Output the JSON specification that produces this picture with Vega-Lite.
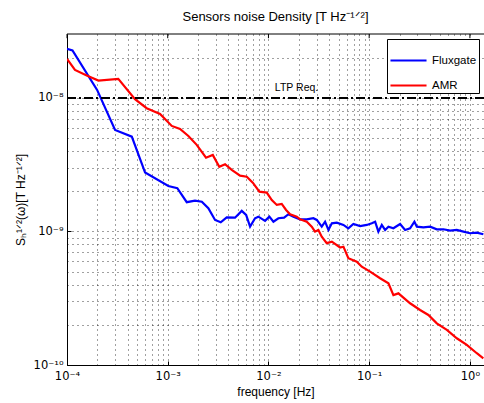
{
  "$schema": "https://vega.github.io/schema/vega-lite/v6.json",
  "width": 417,
  "height": 331,
  "autosize": {"type": "none"},
  "padding": {"left": 67, "top": 34, "right": 0, "bottom": 38},
  "background": "white",
  "config": {
    "font": "Liberation Sans",
    "view": {"stroke": null},
    "axis": {"labelFont": "DejaVu Sans", "titleFont": "Liberation Sans", "labelColor": "black", "titleColor": "black", "titleFontWeight": "normal", "labelFontSize": 11.5, "titleFontSize": 12}
  },
  "title": {"text": "Sensors noise Density [T Hz⁻¹ᐟ²]", "fontSize": 13, "fontWeight": "normal", "font": "Liberation Sans", "color": "black", "offset": 10},
  "layer": [
    {
      "data": {"values": [
        {"s":"Fluxgate","f":1.0e-4,"v":2.33e-8},{"s":"Fluxgate","f":1.134e-4,"v":2.27e-8},{"s":"Fluxgate","f":1.99e-4,"v":1.148e-8},{"s":"Fluxgate","f":3.0e-4,"v":5.76e-9},{"s":"Fluxgate","f":4.40e-4,"v":5.13e-9},{"s":"Fluxgate","f":5.96e-4,"v":2.76e-9},{"s":"Fluxgate","f":1.014e-3,"v":2.19e-9},{"s":"Fluxgate","f":1.245e-3,"v":2.11e-9},{"s":"Fluxgate","f":1.545e-3,"v":1.656e-9},{"s":"Fluxgate","f":1.866e-3,"v":1.702e-9},{"s":"Fluxgate","f":2.18e-3,"v":1.671e-9},{"s":"Fluxgate","f":2.53e-3,"v":1.493e-9},{"s":"Fluxgate","f":2.95e-3,"v":1.219e-9},{"s":"Fluxgate","f":3.36e-3,"v":1.172e-9},{"s":"Fluxgate","f":3.85e-3,"v":1.276e-9},{"s":"Fluxgate","f":4.66e-3,"v":1.268e-9},{"s":"Fluxgate","f":5.43e-3,"v":1.426e-9},{"s":"Fluxgate","f":6.0e-3,"v":1.33e-9},{"s":"Fluxgate","f":6.57e-3,"v":1.086e-9},{"s":"Fluxgate","f":7.36e-3,"v":1.256e-9},{"s":"Fluxgate","f":7.94e-3,"v":1.291e-9},{"s":"Fluxgate","f":9.25e-3,"v":1.2e-9},{"s":"Fluxgate","f":1.021e-2,"v":1.291e-9},{"s":"Fluxgate","f":1.12e-2,"v":1.183e-9},{"s":"Fluxgate","f":1.255e-2,"v":1.256e-9},{"s":"Fluxgate","f":1.43e-2,"v":1.268e-9},{"s":"Fluxgate","f":1.58e-2,"v":1.346e-9},{"s":"Fluxgate","f":1.77e-2,"v":1.291e-9},{"s":"Fluxgate","f":2.06e-2,"v":1.233e-9},{"s":"Fluxgate","f":2.4e-2,"v":1.233e-9},{"s":"Fluxgate","f":2.79e-2,"v":1.256e-9},{"s":"Fluxgate","f":3.02e-2,"v":1.219e-9},{"s":"Fluxgate","f":3.38e-2,"v":1.086e-9},{"s":"Fluxgate","f":3.65e-2,"v":1.183e-9},{"s":"Fluxgate","f":3.94e-2,"v":1.026e-9},{"s":"Fluxgate","f":4.26e-2,"v":1.151e-9},{"s":"Fluxgate","f":4.77e-2,"v":1.164e-9},{"s":"Fluxgate","f":5.55e-2,"v":1.119e-9},{"s":"Fluxgate","f":6.21e-2,"v":1.056e-9},{"s":"Fluxgate","f":6.97e-2,"v":1.137e-9},{"s":"Fluxgate","f":8.13e-2,"v":1.098e-9},{"s":"Fluxgate","f":9.47e-2,"v":1.119e-9},{"s":"Fluxgate","f":0.1062,"v":1.151e-9},{"s":"Fluxgate","f":0.1146,"v":1.183e-9},{"s":"Fluxgate","f":0.1234,"v":9.97e-10},{"s":"Fluxgate","f":0.1334,"v":1.119e-9},{"s":"Fluxgate","f":0.1439,"v":1.026e-9},{"s":"Fluxgate","f":0.1553,"v":1.086e-9},{"s":"Fluxgate","f":0.174,"v":1.056e-9},{"s":"Fluxgate","f":0.2028,"v":1.137e-9},{"s":"Fluxgate","f":0.2272,"v":1.026e-9},{"s":"Fluxgate","f":0.2547,"v":1.056e-9},{"s":"Fluxgate","f":0.2812,"v":1.183e-9},{"s":"Fluxgate","f":0.2972,"v":1.086e-9},{"s":"Fluxgate","f":0.3453,"v":1.074e-9},{"s":"Fluxgate","f":0.4027,"v":1.086e-9},{"s":"Fluxgate","f":0.469,"v":1.038e-9},{"s":"Fluxgate","f":0.546,"v":1.038e-9},{"s":"Fluxgate","f":0.636,"v":1.014e-9},{"s":"Fluxgate","f":0.741,"v":1.026e-9},{"s":"Fluxgate","f":0.863,"v":9.97e-10},{"s":"Fluxgate","f":1.0,"v":9.7e-10},{"s":"Fluxgate","f":1.171,"v":9.81e-10},{"s":"Fluxgate","f":1.36,"v":9.53e-10},
        {"s":"AMR","f":1.0e-4,"v":1.96e-8},{"s":"AMR","f":1.2e-4,"v":1.62e-8},{"s":"AMR","f":1.57e-4,"v":1.47e-8},{"s":"AMR","f":2.05e-4,"v":1.349e-8},{"s":"AMR","f":3.23e-4,"v":1.388e-8},{"s":"AMR","f":4.73e-4,"v":9.78e-9},{"s":"AMR","f":6.18e-4,"v":8.37e-9},{"s":"AMR","f":8.39e-4,"v":7.59e-9},{"s":"AMR","f":1.096e-3,"v":6.17e-9},{"s":"AMR","f":1.325e-3,"v":5.86e-9},{"s":"AMR","f":1.603e-3,"v":5.19e-9},{"s":"AMR","f":1.94e-3,"v":4.45e-9},{"s":"AMR","f":2.4e-3,"v":3.57e-9},{"s":"AMR","f":2.8e-3,"v":3.74e-9},{"s":"AMR","f":3.25e-3,"v":3.05e-9},{"s":"AMR","f":3.71e-3,"v":3.19e-9},{"s":"AMR","f":4.32e-3,"v":2.89e-9},{"s":"AMR","f":5.23e-3,"v":2.62e-9},{"s":"AMR","f":6.09e-3,"v":2.57e-9},{"s":"AMR","f":6.99e-3,"v":2.32e-9},{"s":"AMR","f":8.13e-3,"v":1.986e-9},{"s":"AMR","f":9.62e-3,"v":1.953e-9},{"s":"AMR","f":1.079e-2,"v":1.72e-9},{"s":"AMR","f":1.21e-2,"v":1.58e-9},{"s":"AMR","f":1.355e-2,"v":1.607e-9},{"s":"AMR","f":1.496e-2,"v":1.449e-9},{"s":"AMR","f":1.64e-2,"v":1.346e-9},{"s":"AMR","f":1.91e-2,"v":1.291e-9},{"s":"AMR","f":2.06e-2,"v":1.233e-9},{"s":"AMR","f":2.4e-2,"v":1.183e-9},{"s":"AMR","f":2.69e-2,"v":1.086e-9},{"s":"AMR","f":2.9e-2,"v":9.97e-10},{"s":"AMR","f":3.13e-2,"v":1.026e-9},{"s":"AMR","f":3.38e-2,"v":9.14e-10},{"s":"AMR","f":3.79e-2,"v":8.17e-10},{"s":"AMR","f":4.26e-2,"v":8.39e-10},{"s":"AMR","f":5.14e-2,"v":7.59e-10},{"s":"AMR","f":5.55e-2,"v":7.69e-10},{"s":"AMR","f":6.21e-2,"v":6.3e-10},{"s":"AMR","f":7.53e-2,"v":5.94e-10},{"s":"AMR","f":8.44e-2,"v":5.45e-10},{"s":"AMR","f":0.1021,"v":5.0e-10},{"s":"AMR","f":0.1283,"v":4.46e-10},{"s":"AMR","f":0.1553,"v":4.09e-10},{"s":"AMR","f":0.174,"v":3.34e-10},{"s":"AMR","f":0.195,"v":3.44e-10},{"s":"AMR","f":0.2547,"v":2.9e-10},{"s":"AMR","f":0.32,"v":2.58e-10},{"s":"AMR","f":0.387,"v":2.37e-10},{"s":"AMR","f":0.469,"v":2.05e-10},{"s":"AMR","f":0.59,"v":1.83e-10},{"s":"AMR","f":0.741,"v":1.585e-10},{"s":"AMR","f":0.931,"v":1.413e-10},{"s":"AMR","f":1.171,"v":1.225e-10},{"s":"AMR","f":1.36,"v":1.122e-10}
      ]},
      "mark": {"type": "line", "strokeWidth": 2.2, "clip": true},
      "encoding": {
        "x": {"field": "f", "type": "quantitative",
          "scale": {"type": "log", "domain": [0.0001, 1.38], "nice": false},
          "axis": {
            "title": "frequency [Hz]", "titlePadding": 5,
            "values": [0.0001,0.0002,0.0003,0.0004,0.0005,0.0006,0.0007,0.0008,0.0009,0.001,0.002,0.003,0.004,0.005,0.006,0.007,0.008,0.009,0.01,0.02,0.03,0.04,0.05,0.06,0.07,0.08,0.09,0.1,0.2,0.3,0.4,0.5,0.6,0.7,0.8,0.9,1],
            "labelExpr": "abs(log(datum.value)/LN10 - round(log(datum.value)/LN10)) < 0.001 ? ['10⁻⁴','10⁻³','10⁻²','10⁻¹','10⁰'][round(log(datum.value)/LN10)+4] : ''",
            "labelFlush": false, "labelOverlap": false, "labelPadding": 9,
            "domainColor": "black", "domainWidth": 1,
            "tickColor": "black", "tickSize": -4,
            "tickOpacity": {"condition": {"test": "abs(log(datum.value)/LN10 - round(log(datum.value)/LN10)) < 0.001", "value": 1}, "value": 0},
            "grid": true, "gridColor": "#111111", "gridDash": [1, 4], "gridOpacity": 0.8
          }
        },
        "y": {"field": "v", "type": "quantitative",
          "scale": {"type": "log", "domain": [1e-10, 3.01e-8], "nice": false},
          "axis": {
            "title": "Sₕ¹ᐟ²(ω)[T Hz⁻¹ᐟ²]", "titlePadding": 6,
            "values": [1e-10,2e-10,3e-10,4e-10,5e-10,6e-10,7e-10,8e-10,9e-10,1e-9,2e-9,3e-9,4e-9,5e-9,6e-9,7e-9,8e-9,9e-9,1e-8,2e-8],
            "labelExpr": "abs(log(datum.value)/LN10 - round(log(datum.value)/LN10)) < 0.001 ? ['10⁻¹⁰','10⁻⁹','10⁻⁸'][round(log(datum.value)/LN10)+10] : ''",
            "labelFlush": false, "labelOverlap": false, "labelPadding": 8,
            "domainColor": "black", "domainWidth": 1,
            "tickColor": "black", "tickSize": -4,
            "tickOpacity": {"condition": {"test": "abs(log(datum.value)/LN10 - round(log(datum.value)/LN10)) < 0.001", "value": 1}, "value": 0},
            "grid": true, "gridColor": "#111111", "gridDash": [1, 4], "gridOpacity": 0.8
          }
        },
        "color": {"field": "s", "type": "nominal",
          "scale": {"domain": ["Fluxgate", "AMR"], "range": ["#0000ff", "#ff0000"]},
          "legend": {"title": null, "orient": "top-right", "offset": 5, "strokeColor": "black", "fillColor": "white", "padding": 2, "symbolType": "stroke", "symbolStrokeWidth": 2.2, "symbolSize": 1300, "labelFontSize": 11.5, "labelFont": "Liberation Sans", "labelColor": "black", "rowPadding": 0}
        }
      }
    },
    {
      "data": {"values": [{"v": 1e-8}]},
      "mark": {"type": "rule", "color": "black", "strokeWidth": 2, "strokeDash": [9, 3, 2, 3]},
      "encoding": {"y": {"field": "v", "type": "quantitative"}}
    },
    {
      "data": {"values": [{"f": 0.019, "v": 1.19e-8, "t": "LTP Req."}]},
      "mark": {"type": "text", "font": "Liberation Sans", "fontSize": 10.5, "color": "black", "baseline": "middle", "align": "center"},
      "encoding": {
        "x": {"field": "f", "type": "quantitative"},
        "y": {"field": "v", "type": "quantitative"},
        "text": {"field": "t"}
      }
    },
    {
      "data": {"values": [{"a": 0.0001, "b": 1.38, "v": 3.01e-8}]},
      "mark": {"type": "rule", "color": "black", "strokeWidth": 1},
      "encoding": {
        "x": {"field": "a", "type": "quantitative"},
        "x2": {"field": "b"},
        "y": {"field": "v", "type": "quantitative"}
      }
    },
    {
      "data": {"values": [{"f": 0.0001, "v": 3.01e-8, "w": 2.8e-8}, {"f": 0.001, "v": 3.01e-8, "w": 2.8e-8}, {"f": 0.01, "v": 3.01e-8, "w": 2.8e-8}, {"f": 0.1, "v": 3.01e-8, "w": 2.8e-8}, {"f": 1, "v": 3.01e-8, "w": 2.8e-8}]},
      "mark": {"type": "rule", "color": "black", "strokeWidth": 1},
      "encoding": {
        "x": {"field": "f", "type": "quantitative"},
        "y": {"field": "v", "type": "quantitative"},
        "y2": {"field": "w"}
      }
    }
  ]
}
